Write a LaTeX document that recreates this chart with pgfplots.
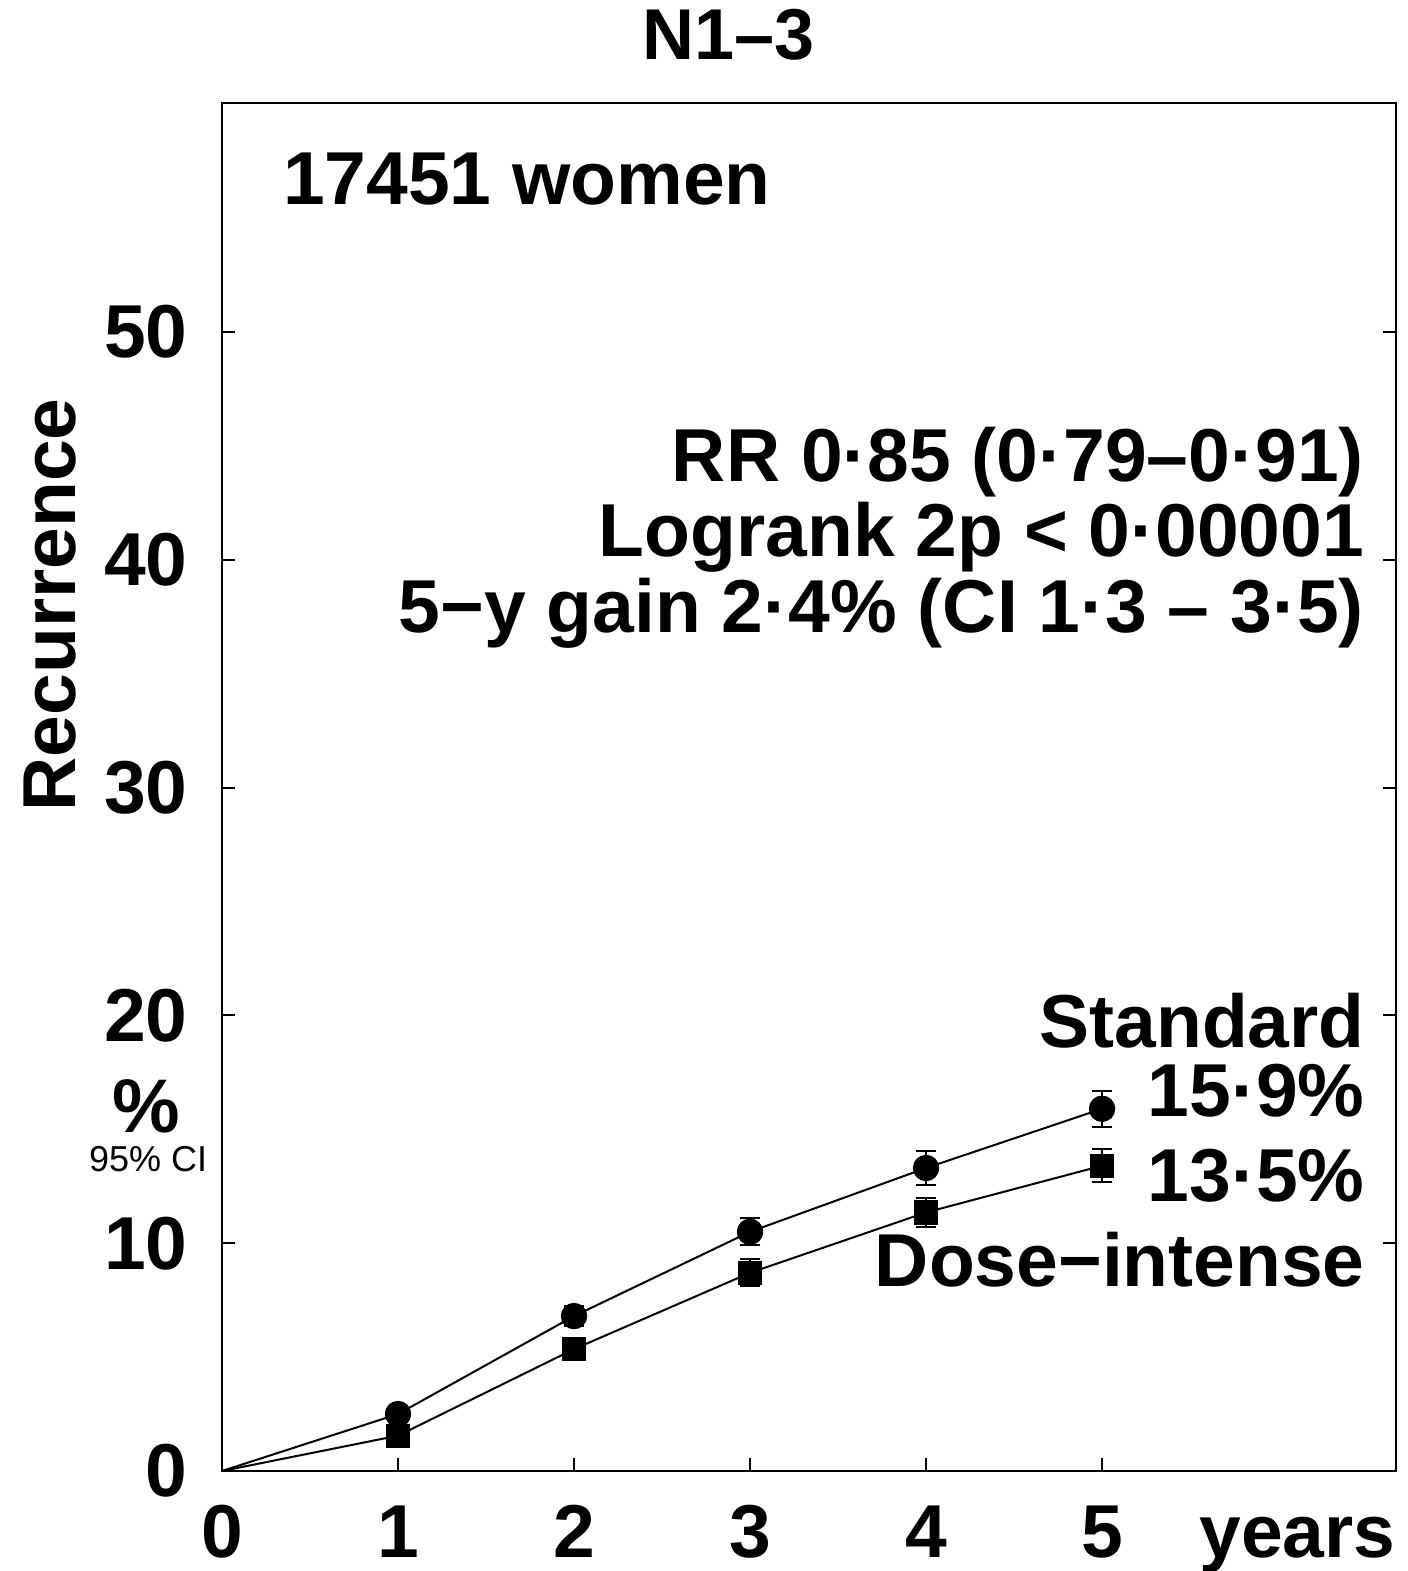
\documentclass[border=0pt]{standalone}
\usepackage{fontspec}
\setmainfont{Liberation Sans}
\usepackage{pgfplots}
\pgfplotsset{compat=1.18}

\begin{document}
\begin{tikzpicture}[font=\fontsize{37.5pt}{45pt}\selectfont\bfseries]
\useasboundingbox (-111pt,-50pt) rectangle (593pt,735.5pt);
\begin{axis}[
  at={(0,0)}, anchor=south west,
  scale only axis, width=587pt, height=684pt,
  xmin=0, xmax=6.67, ymin=0, ymax=60.05,
  axis line style={line width=1.2pt},
  xtick={0,...,5}, ytick={0,10,...,50},
  tick align=inside, xtick pos=bottom, ytick pos=both,
  yticklabel pos=left,
  major tick length=6.5pt,
  tick style={line width=1pt, black},
  /pgf/number format/assume math mode=true,
  xticklabel style={anchor=north, inner sep=0pt, yshift=-17pt},
  yticklabel style={anchor=east, inner sep=0pt, xshift=-17pt},
  extra x ticks={6.11}, extra x tick labels={\vphantom{0}years},
  extra x tick style={major tick length=0pt},
  clip=false,
]
% Standard
\addplot[black, line width=1pt, no marks] coordinates {(0,0) (1,2.5) (2,6.8) (3,10.5) (4,13.3) (5,15.9)};
\addplot[black, only marks, mark=*, mark size=6.4pt,
  error bars/.cd, y dir=both, y explicit,
  error bar style={line width=1pt, black},
  error mark options={rotate=90, mark size=5.2pt, line width=1pt, black}]
  coordinates {(1,2.5) +- (0,0.3) (2,6.8) +- (0,0.45) (3,10.5) +- (0,0.6) (4,13.3) +- (0,0.75) (5,15.9) +- (0,0.8)};
% Dose-intense
\addplot[black, line width=1pt, no marks] coordinates {(0,0) (1,1.55) (2,5.35) (3,8.7) (4,11.35) (5,13.4)};
\addplot[black, only marks, mark=square*, mark size=5.8pt,
  error bars/.cd, y dir=both, y explicit,
  error bar style={line width=1pt, black},
  error mark options={rotate=90, mark size=5.2pt, line width=1pt, black}]
  coordinates {(1,1.55) +- (0,0.3) (2,5.35) +- (0,0.4) (3,8.7) +- (0,0.6) (4,11.35) +- (0,0.65) (5,13.4) +- (0,0.72)};

\node[anchor=base, inner sep=0pt, font=\fontsize{36pt}{43pt}\selectfont\bfseries] at (axis cs:2.88,61.94) {N1–3};
\node[anchor=base west, inner sep=0pt] at (axis cs:0.345,55.58) {17451 women};
\node[anchor=base east, inner sep=0pt] at (axis cs:6.49,43.42) {RR 0·85 (0·79–0·91)};
\node[anchor=base east, inner sep=0pt] at (axis cs:6.49,40.13) {Logrank 2p < 0·00001};
\node[anchor=base east, inner sep=0pt] at (axis cs:6.49,36.79) {5−y gain 2·4\% (CI 1·3 – 3·5)};
\node[anchor=base east, inner sep=0pt] at (axis cs:6.494,18.61) {Standard};
\node[anchor=base east, inner sep=0pt] at (axis cs:6.494,15.54) {15·9\%};
\node[anchor=base east, inner sep=0pt] at (axis cs:6.494,11.81) {13·5\%};
\node[anchor=base east, inner sep=0pt] at (axis cs:6.494,8.08) {Dose−intense};
\node[anchor=base, inner sep=0pt, rotate=90] at (axis cs:-0.835,38.02) {Recurrence};
\node[anchor=base, inner sep=0pt, font=\fontsize{38pt}{44pt}\selectfont\bfseries] at (axis cs:-0.432,14.88) {\%};
\node[anchor=base, inner sep=0pt, font=\fontsize{18pt}{22pt}\selectfont\mdseries] at (axis cs:-0.42,13.13) {95\% CI};
\end{axis}
\end{tikzpicture}
\end{document}
